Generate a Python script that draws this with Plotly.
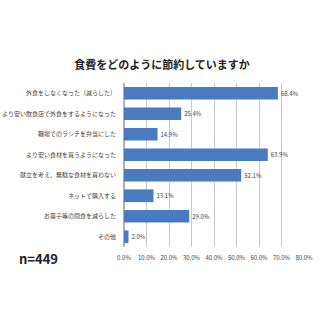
import plotly.graph_objects as go

categories = ["外食をしなくなった（減らした）", "より安い飲食店で外食をするようになった", "職場でのランチを弁当にした",
              "より安い食材を買うようになった", "献立を考え、無駄な食材を買わない", "ネットで購入する",
              "お菓子等の間食を減らした", "その他"]
values = [68.4, 25.4, 14.9, 63.9, 52.1, 13.1, 29.0, 2.0]
tick_vals = [0, 10, 20, 30, 40, 50, 60, 70, 80]
tick_text = ["0.0%", "10.0%", "20.0%", "30.0%", "40.0%", "50.0%", "60.0%", "70.0%", "80.0%"]

FONT = "Noto Sans CJK JP"
L, R, T, B = 124, 16, 83, 73

fig = go.Figure(go.Bar(
    x=values, y=categories, orientation="h",
    marker=dict(color="#4a7bc0", line=dict(width=0)),
    width=0.62,
    text=[f"{v:.1f}%" for v in values], textposition="outside",
    textfont=dict(size=6, color="#404040", family=FONT),
    cliponaxis=False,
))

pw = 320 - L - R
ph = 320 - T - B

fig.update_layout(
    width=320, height=320,
    margin=dict(l=L, r=R, t=T, b=B, autoexpand=False),
    paper_bgcolor="white", plot_bgcolor="white",
    showlegend=False,
    font=dict(family=FONT),
    title=dict(text="<b>食費をどのように節約していますか</b>", x=162 / 320, xanchor="center",
               xref="container", y=1 - 65 / 320, yanchor="middle", yref="container",
               font=dict(size=11, color="#222222", family=FONT)),
    xaxis=dict(range=[0, 80], tickvals=tick_vals, ticktext=tick_text, automargin=False,
               showgrid=True, gridcolor="#c8c8c8", gridwidth=1,
               tickfont=dict(size=6, color="#404040"), zeroline=True,
               zerolinecolor="#b0b0b0", showline=False, ticks="", ticklabelstandoff=6),
    yaxis=dict(autorange="reversed", tickfont=dict(size=6, color="#404040"), automargin=False,
               ticks="", ticklen=0, showline=False, ticklabelstandoff=7),
    annotations=[dict(text="<b>n=449</b>", x=(17 - L) / pw, y=(320 - B - 258) / ph,
                      xref="paper", yref="paper",
                      showarrow=False, xanchor="left", yanchor="middle",
                      font=dict(size=13, color="#222222", family=FONT))],
)

fig.write_html("out.html")
